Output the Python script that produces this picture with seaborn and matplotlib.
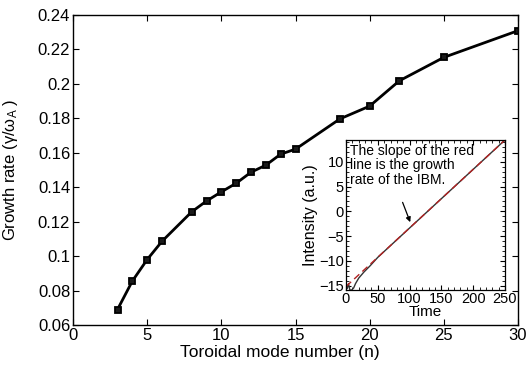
import matplotlib
matplotlib.use("Agg")
import matplotlib.pyplot as plt
from matplotlib.ticker import FuncFormatter, MultipleLocator
import seaborn as sns
import pandas as pd

# ---- data ----
mode_n = [3, 4, 5, 6, 8, 9, 10, 11, 12, 13, 14, 15, 18, 20, 22, 25, 30]
growth = [0.069, 0.0855, 0.098, 0.1086, 0.1257, 0.132, 0.1373, 0.1423, 0.1487,
          0.1528, 0.1592, 0.1621, 0.1797, 0.1871, 0.2018, 0.2154, 0.2309]

inset_time = [2, 4, 6, 9, 12, 15, 20, 28, 38, 50, 250]
inset_int = [-15.6, -14.6, -15.9, -15.9, -15.5, -14.6, -13.5, -12.3, -11.0, -9.3, 14.4]

fit_time = [0, 250]
fit_int = [-15.2, 14.4]

x_ticks = [0, 5, 10, 15, 20, 25, 30]
y_ticks = [0.06, 0.08, 0.10, 0.12, 0.14, 0.16, 0.18, 0.20, 0.22, 0.24]
inset_x_ticks = [0, 50, 100, 150, 200, 250]
inset_y_ticks = [-15, -10, -5, 0, 5, 10]

note = "The slope of the red\nline is the growth\nrate of the IBM."

sns.set_theme(style="ticks")
plt.rcParams["font.family"] = ["Liberation Sans", "DejaVu Sans"]
plt.rcParams["mathtext.fontset"] = "custom"
plt.rcParams["mathtext.rm"] = "Liberation Sans"
plt.rcParams["mathtext.it"] = "Liberation Sans:italic"
plt.rcParams["text.color"] = "black"
plt.rcParams["axes.labelcolor"] = "black"

fig = plt.figure(figsize=(5.3, 3.69), dpi=100)
fig.patch.set_facecolor("white")

ax = fig.add_axes([73 / 530, 44 / 369, 445 / 530, 310 / 369])
main_df = pd.DataFrame({"n": mode_n, "g": growth})
sns.lineplot(data=main_df, x="n", y="g", ax=ax, color="black", linewidth=2.0,
             marker="s", markersize=5, markerfacecolor="#1a1a1a",
             markeredgecolor="black", markeredgewidth=1.3)
ax.set_xlim(0, 30)
ax.set_ylim(0.06, 0.24)
ax.set_xticks(x_ticks)
ax.set_yticks(y_ticks)
ax.yaxis.set_major_formatter(FuncFormatter(lambda v, p: "%g" % round(v, 2)))
ax.tick_params(direction="in", top=True, right=True, length=4, width=0.8,
               labelsize=12, colors="black", pad=2)
for s in ax.spines.values():
    s.set_visible(True)
    s.set_linewidth(1.0)
    s.set_color("black")
ax.set_xlabel("Toroidal mode number (n)", fontsize=12.5, color="black")
ax.set_ylabel("Growth rate (γ/ω$_{\\rm A}$ )", fontsize=12, color="black")
ax.xaxis.set_label_coords(0.465, -0.065)
ax.yaxis.set_label_coords(-0.12, 0.5)

# ---- inset ----
axi = fig.add_axes([346 / 530, 79 / 369, 159 / 530, 150 / 369])
axi.set_facecolor("white")
ins_df = pd.DataFrame({"t": inset_time, "I": inset_int})
fit_df = pd.DataFrame({"t": fit_time, "I": fit_int})
sns.lineplot(data=ins_df, x="t", y="I", ax=axi, color="#333333", linewidth=1.0)
sns.lineplot(data=fit_df, x="t", y="I", ax=axi, color="#b22222", linewidth=1.0,
             linestyle=(0, (5, 3)))
axi.set_xlim(0, 250)
axi.set_ylim(-15.9, 14.4)
axi.set_xticks(inset_x_ticks)
axi.set_yticks(inset_y_ticks)
axi.xaxis.set_minor_locator(MultipleLocator(10))
axi.yaxis.set_minor_locator(MultipleLocator(1))
axi.tick_params(which="both", direction="in", top=True, right=True, colors="black")
axi.tick_params(which="major", length=3.5, width=0.8, labelsize=10.5, pad=1.5)
axi.tick_params(which="minor", length=2, width=0.6)
for s in axi.spines.values():
    s.set_visible(True)
    s.set_linewidth(0.9)
    s.set_color("black")
axi.set_xlabel("Time", fontsize=11, labelpad=-1, color="black")
axi.set_ylabel("Intensity (a.u.)", fontsize=11.5, labelpad=1, color="black")
axi.text(0.025, 0.975, note, transform=axi.transAxes, ha="left", va="top",
         fontsize=10, linespacing=1.05, color="black")
axi.annotate("", xy=(101, -2.2), xytext=(89, 1.8),
             arrowprops=dict(arrowstyle="-|>", color="black", lw=0.9,
                             mutation_scale=7, shrinkA=0, shrinkB=0))

fig.savefig("out.png", dpi=100, facecolor="white")
